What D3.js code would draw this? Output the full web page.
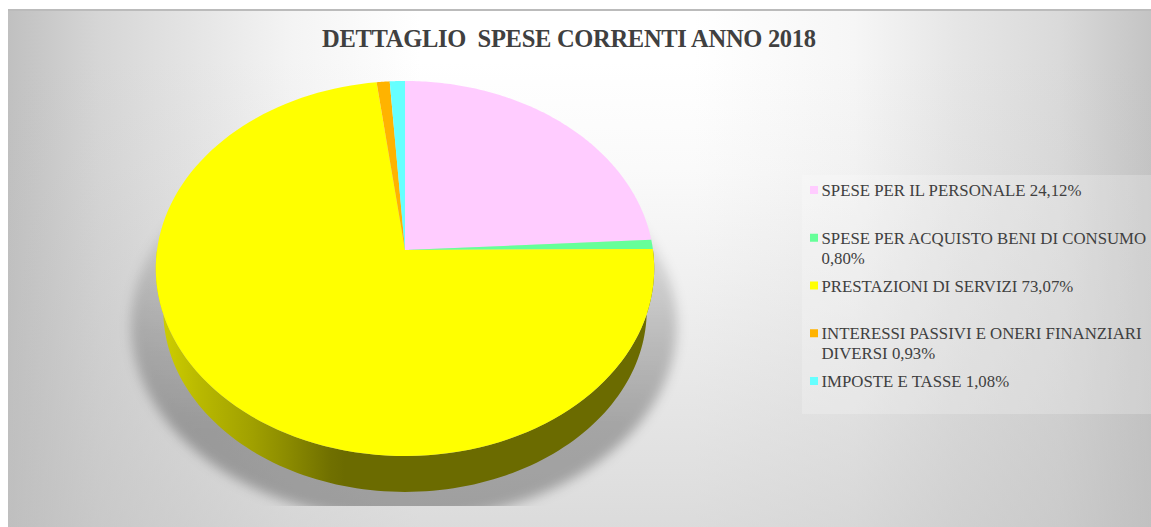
<!DOCTYPE html>
<html>
<head>
<meta charset="utf-8">
<script src="https://cdn.jsdelivr.net/npm/d3@7/dist/d3.min.js"></script>
<style>
  html, body { margin: 0; padding: 0; background: #fff; }
  svg { display: block; }
  text { font-family: "Liberation Serif", "Times New Roman", serif; fill: #404040; white-space: pre; }
</style>
</head>
<body>
<svg id="chart" width="1151" height="527"></svg>
<script>
// Current expenditure breakdown, 2018
const chartTitle = "DETTAGLIO  SPESE CORRENTI ANNO 2018";
const categories = [
  "SPESE PER IL PERSONALE",
  "SPESE PER ACQUISTO BENI DI CONSUMO",
  "PRESTAZIONI DI SERVIZI",
  "INTERESSI PASSIVI E ONERI FINANZIARI DIVERSI",
  "IMPOSTE E TASSE"
];
const shares = [24.12, 0.80, 73.07, 0.93, 1.08];
const sliceColors = ["#ffccff", "#66ff99", "#ffff00", "#ffb300", "#66ffff"];
const legendLines = [
  ["SPESE PER IL PERSONALE 24,12%"],
  ["SPESE PER ACQUISTO BENI DI CONSUMO", "0,80%"],
  ["PRESTAZIONI DI SERVIZI 73,07%"],
  ["INTERESSI PASSIVI E ONERI FINANZIARI", "DIVERSI 0,93%"],
  ["IMPOSTE E TASSE 1,08%"]
];

const W = 1151, H = 527;
const svg = d3.select("#chart");
const defs = svg.append("defs");

const addStops = (grad, stops) => stops.forEach(([o, c, a]) => {
  const s = grad.append("stop").attr("offset", o).attr("stop-color", c);
  if (a !== undefined) s.attr("stop-opacity", a);
});

// Page backdrop: white in the middle, grey towards the sides and the floor
const bgX = defs.append("linearGradient").attr("id", "bgX")
  .attr("gradientUnits", "userSpaceOnUse").attr("x1", 8).attr("x2", W).attr("y1", 0).attr("y2", 0);
addStops(bgX, [[0, "#c0c0c0"], [0.08, "#d6d6d6"], [0.17, "#e6e6e6"], [0.25, "#f4f4f4"], [0.36, "#ffffff"],
  [0.6, "#ffffff"], [0.74, "#f6f6f6"], [0.83, "#e6e6e6"], [0.92, "#dadada"], [1, "#c4c4c4"]]);
const bgY = defs.append("linearGradient").attr("id", "bgY")
  .attr("gradientUnits", "userSpaceOnUse").attr("x1", 0).attr("x2", 0).attr("y1", 60).attr("y2", H);
addStops(bgY, [[0, "#bebebe", 0], [0.24, "#bebebe", 0.08], [0.51, "#bebebe", 0.25], [1, "#bebebe", 0.55]]);

svg.append("rect").attr("x", 8).attr("y", 9).attr("width", W - 8).attr("height", H - 9).attr("fill", "url(#bgX)");
svg.append("rect").attr("x", 8).attr("y", 9).attr("width", W - 8).attr("height", H - 9).attr("fill", "url(#bgY)");
svg.append("rect").attr("x", 8).attr("y", 9).attr("width", W - 8).attr("height", 2).attr("fill", "#bbbbbb");

svg.append("text").attr("x", 322).attr("y", 47)
  .attr("font-size", 24.5).attr("font-weight", "bold").attr("textLength", 494)
  .text(chartTitle);

// Legend panel
svg.append("rect").attr("x", 802).attr("y", 175).attr("width", 349).attr("height", 239)
  .attr("fill", "#ffffff").attr("fill-opacity", 0.22);

// Perspective projection of the unit disc: near edge (bottom) is larger than far edge
const cx = 405, cy = 250, R = 248, S = 185.7, k = 0.0987, depthScale = 0.97;
const project = (a, r = 1) => {
  const u = r * Math.sin(a), v = -r * Math.cos(a), w = 1 - k * v;
  return [cx + R * u / w, cy + S * v / w];
};
const rimCy = cy + S * k / (1 - k * k);          // vertical centre of the projected rim
const lower = ([x, y]) => [cx + (x - cx) * depthScale, rimCy + 41.5 + (y - rimCy) * depthScale];

const arcs = d3.pie().sort(null).value(d => d)(shares);
const line = d3.line();
const sample = (a0, a1) => d3.range(0, 121).map(i => project(a0 + (a1 - a0) * i / 120));

// Cast shadow under the disc
defs.append("filter").attr("id", "soft").attr("x", "-20%").attr("y", "-20%").attr("width", "140%").attr("height", "140%")
  .append("feGaussianBlur").attr("stdDeviation", 6);
defs.append("clipPath").attr("id", "floor").append("rect").attr("x", 0).attr("y", 0).attr("width", W).attr("height", 506);
const shade = defs.append("linearGradient").attr("id", "shade")
  .attr("gradientUnits", "userSpaceOnUse").attr("x1", 0).attr("x2", 0).attr("y1", 240).attr("y2", 430);
addStops(shade, [[0, "#000", 0.1], [0.5, "#000", 0.2], [1, "#000", 0.28]]);
svg.append("g").attr("clip-path", "url(#floor)")
  .append("ellipse").attr("cx", 404).attr("cy", 325).attr("rx", 273).attr("ry", 195)
  .attr("fill", "url(#shade)").attr("filter", "url(#soft)");

// Side wall of the disc, lit from the left
const wall = defs.append("linearGradient").attr("id", "wall")
  .attr("gradientUnits", "userSpaceOnUse").attr("x1", 160).attr("x2", 345).attr("y1", 0).attr("y2", 0);
addStops(wall, [[0, "#cfcf00"], [0.22, "#b8b800"], [0.5, "#a0a000"], [0.7, "#8a8a00"], [0.92, "#707000"], [1, "#6b6b00"]]);
const rim = sample(Math.PI / 2, 3 * Math.PI / 2);
svg.append("path").attr("d", line(rim.concat(rim.map(lower).reverse())) + "Z").attr("fill", "url(#wall)");

// Top face slices
svg.append("g").selectAll("path").data(arcs).join("path")
  .attr("d", d => line([[cx, cy]].concat(sample(d.startAngle, d.endAngle))) + "Z")
  .attr("fill", (d, i) => sliceColors[i]);

// Legend entries
const rowY = d3.scalePoint().domain(categories).range([196, 387]);
const rows = svg.append("g").selectAll("g").data(categories).join("g")
  .attr("transform", d => `translate(0,${rowY(d)})`);
rows.append("rect").attr("x", 810).attr("y", -10).attr("width", 8).attr("height", 8)
  .attr("fill", (d, i) => sliceColors[i]);
rows.each(function (d, i) {
  d3.select(this).selectAll("text").data(legendLines[i]).join("text")
    .attr("x", 821.5).attr("y", (t, j) => j * 20)
    .attr("font-size", 16.8)
    .text(t => t);
});
</script>
</body>
</html>
